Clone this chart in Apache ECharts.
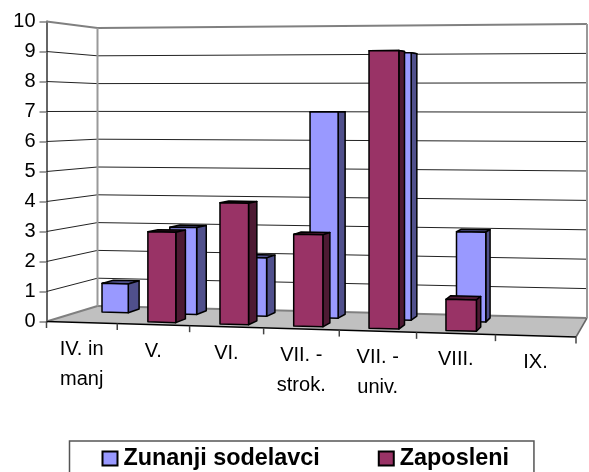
<!DOCTYPE html>
<html><head><meta charset="utf-8">
<style>html,body{margin:0;padding:0;background:#fff}#c{width:589px;height:472px}</style>
<script src="https://cdn.jsdelivr.net/npm/echarts@6/dist/echarts.min.js"></script>
</head><body><div id="c"></div>
<script>
const categories = ['IV. in\nmanj','V.','VI.','VII. -\nstrok.','VII. -\nuniv.','VIII.','IX.'];
const zunanji = [1,3,2,7,9,3,0];
const zaposleni = [0,3,4,3,9,1,0];
const yTicks = [0,1,2,3,4,5,6,7,8,9,10];
const FONT = '"Liberation Sans", Arial, sans-serif';

// oblique view of the plot plane
function project(px, py, d, g) {
  const base = g.y + g.height;
  const u = (px - g.x) / g.width;
  const x = px + 40 * u * (u - 1);
  const w = (x - g.x) / g.width;
  const X = x + d * (51 - 40 * w);
  const f = base + 15.5 * w, b = base - 15.5 + 12 * w;
  const y0 = f + d * (b - f);
  const sf = 1 + (2 / 30) * w, sb = (27.8 + 1.6 * w) / 30;
  const s = sf + d * (sb - sf);
  return [X, y0 - (base - py) * s];
}
const poly = (points, style) => ({type:'polygon', shape:{points}, style});
const line = (points, stroke, lineWidth) => ({type:'polyline', shape:{points}, style:{fill:null, stroke, lineWidth}});

function barSeries(name, values, color, side, d0, d1) {
  return {
    type:'custom', name, z:5, clip:false, silent:true,
    itemStyle:{color, borderColor:'#000', borderWidth:1.5},
    data: values.map((v,i)=>[i,v]),
    renderItem(params, api) {
      const v = api.value(1);
      if (!(v > 0)) return {type:'group', children:[]};
      const g = params.coordSys;
      const top = api.coord([api.value(0), v]), bot = api.coord([api.value(0), 0]);
      const band = api.size([1,0])[0];
      const hw = band * 0.195, mid = top[0] + band * 0.03;
      const l = mid-hw, r = mid+hw;
      const P = (x,y,d)=>project(x,y,d,g);
      const st = f=>({fill:f, stroke:'#000', lineWidth:1.5, lineJoin:'round'});
      return {type:'group', children:[
        poly([P(l,top[1],d0),P(r,top[1],d0),P(r,top[1],d1),P(l,top[1],d1)], st(side)),
        poly([P(r,top[1],d0),P(r,bot[1],d0),P(r,bot[1],d1),P(r,top[1],d1)], st(side)),
        poly([P(l,top[1],d0),P(r,top[1],d0),P(r,bot[1],d0),P(l,bot[1],d0)], st(color))
      ]};
    }
  };
}

const wallSeries = {
  type:'custom', name:'wall', z:1, clip:false, silent:true,
  data: yTicks.map(v=>[0,v]),
  renderItem(params, api) {
    const g = params.coordSys, v = api.value(1);
    const y = api.coord([0,v])[1], L = g.x, R = g.x+g.width;
    if (v === 0) {
      return {type:'group', children:[
        poly([project(L,y,0,g),project(R,y,0,g),project(R,y,1,g),project(L,y,1,g)], {fill:'#C0C0C0'}),
        line([project(L,y,0,g),project(L,y,1,g)], '#808080', 2),
        line([project(L,y,1,g),project(R,y,1,g)], '#808080', 2),
        line([project(R,y,1,g),project(R,y,0,g)], '#666', 1.5),
        line([project(L,y,0,g),project(R,y,0,g)], '#000', 1.5)
      ]};
    }
    const edge = v === 10;
    const kids = [line([project(L,y,0,g),project(L,y,1,g),project(R,y,1,g)], edge?'#808080':'#222', edge?2:1)];
    if (edge) {
      const y0 = api.coord([0,0])[1];
      kids.push(line([project(L,y,1,g),project(L,y0,1,g)], '#999', 2));
      kids.push(line([project(R,y,1,g),project(R,y0,1,g)], '#999', 2));
    }
    return {type:'group', children:kids};
  }
};

const catSeries = {
  type:'custom', name:'cats', z:6, clip:false, silent:true,
  data: categories.map((c,i)=>[i,0]),
  renderItem(params, api) {
    const g = params.coordSys, i = api.value(0);
    const c = api.coord([i,0]), band = api.size([1,0])[0];
    const tick = px => { const p = project(px,c[1],0,g); return line([p,[p[0],p[1]+6.5]], '#444', 1.5); };
    const kids = [tick(c[0]-band/2)];
    if (i === categories.length-1) kids.push(tick(c[0]+band/2));
    const m = project(c[0],c[1],0,g);
    kids.push({type:'text', x:m[0], y:m[1]+11.5, style:{text:categories[i], align:'center', verticalAlign:'top',
      font:'20px '+FONT, lineHeight:30, fill:'#000'}});
    return {type:'group', children:kids};
  }
};

const chart = echarts.init(document.getElementById('c'), null, {renderer:'canvas'});
chart.setOption({
  animation:false,
  backgroundColor:'#fff',
  grid:{left:46.5, right:13, top:21.5, height:300, containLabel:false},
  xAxis:{type:'category', data:categories, axisLine:{show:false}, axisTick:{show:false}, axisLabel:{show:false}},
  yAxis:{type:'value', min:0, max:10, interval:1, splitLine:{show:false},
    axisLine:{show:true, lineStyle:{color:'#666', width:2}},
    axisTick:{show:true, length:7, lineStyle:{color:'#808080', width:1.5}},
    axisLabel:{margin:11, color:'#000', fontFamily:FONT, fontSize:20}},
  legend:{left:69.5, top:441, orient:'horizontal', data:['Zunanji sodelavci','Zaposleni'], icon:'rect',
    itemWidth:15, itemHeight:14, itemGap:58, selectedMode:false,
    padding:[6,25,20,32], borderColor:'#555', borderWidth:1.5, backgroundColor:'#fff',
    textStyle:{fontFamily:FONT, fontSize:23.4, fontWeight:'bold', color:'#000', padding:[0,0,0,1]}},
  series:[
    wallSeries,
    barSeries('Zunanji sodelavci', zunanji, '#9999FF', '#50508C', 0.65, 0.88),
    barSeries('Zaposleni', zaposleni, '#993366', '#4D1A33', 0.15, 0.38),
    catSeries
  ]
});
</script></body></html>
